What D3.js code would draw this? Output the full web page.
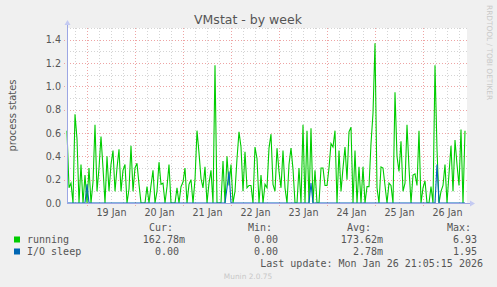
<!DOCTYPE html>
<html>
<head>
<meta charset="utf-8">
<script src="https://cdn.jsdelivr.net/npm/d3@7"></script>
<style>
    body { margin: 0; background: #f0f0f0; }
    svg { display: block; font-family: "DejaVu Sans", sans-serif; }
    .mono { font-family: "DejaVu Sans Mono", monospace; font-size: 10px; fill: #555; white-space: pre; }
</style>
</head>
<body>
<div id="vmstat_container"></div>
<script>
// hourly samples, starting Jan 18 13:45
var running = [
    0.62, 0.13, 0.17, 0, 0.76, 0.55, 0, 0.33, 0, 0.24,
    0, 0.3, 0, 0.18, 0.67, 0.1, 0.3, 0.57, 0.3, 0,
    0.4, 0.1, 0.33, 0.45, 0.1, 0.3, 0.46, 0.1, 0.28, 0.33,
    0, 0.12, 0.49, 0.1, 0.3, 0.34, 0.16, 0, 0, 0,
    0.14, 0, 0.15, 0.28, 0, 0.1, 0.35, 0.16, 0.17, 0,
    0.14, 0.33, 0, 0, 0, 0.13, 0, 0.14, 0.18, 0.3,
    0, 0.16, 0.2, 0, 0.2, 0.62, 0.43, 0.21, 0.13, 0.31,
    0, 0.17, 0.28, 0, 1.18, 0, 0, 0, 0.36, 0,
    0.4, 0.15, 0.33, 0, 0.1, 0.38, 0.61, 0.48, 0.1, 0.44,
    0.13, 0.15, 0.15, 0, 0.48, 0.38, 0, 0.24, 0, 0.16,
    0.13, 0.47, 0.59, 0.16, 0.1, 0.47, 0.27, 0.13, 0.45, 0.13,
    0, 0.33, 0.47, 0.29, 0, 0, 0.3, 0, 0.67, 0,
    0.62, 0, 0.64, 0, 0.28, 0, 0, 0.3, 0.3, 0.15,
    0.15, 0.3, 0.51, 0.48, 0.62, 0, 0.45, 0.1, 0.3, 0.48,
    0.2, 0.61, 0.65, 0, 0.45, 0, 0.31, 0, 0.31, 0,
    0.14, 0.14, 0.51, 0.77, 1.37, 0.13, 0, 0.31, 0.3, 0.15,
    0, 0.17, 0.15, 0, 0.95, 0.4, 0.27, 0.53, 0.1, 0.17,
    0.67, 0.3, 0, 0.24, 0.25, 0.15, 0.62, 0, 0.13, 0.19,
    0, 0, 0.14, 0, 1.18, 0.46, 0, 0.1, 0.15, 0.33,
    0, 0.25, 0.49, 0.1, 0.54, 0.33, 0.15, 0.63, 0, 0.62
];

var ioSleep = [
    0, 0, 0, 0, 0, 0, 0, 0, 0, 0,
    0.16, 0, 0, 0, 0, 0, 0, 0, 0, 0,
    0, 0, 0, 0, 0, 0, 0, 0, 0, 0,
    0, 0, 0, 0, 0, 0, 0, 0, 0, 0,
    0, 0, 0, 0, 0, 0, 0, 0, 0, 0,
    0, 0, 0, 0, 0, 0, 0, 0, 0, 0,
    0, 0, 0, 0, 0, 0, 0, 0, 0, 0,
    0, 0, 0, 0, 0, 0, 0, 0, 0, 0,
    0.13, 0.27, 0, 0, 0, 0, 0, 0, 0, 0,
    0, 0, 0, 0, 0, 0, 0, 0, 0, 0,
    0, 0, 0, 0, 0, 0, 0, 0, 0, 0,
    0, 0, 0, 0, 0, 0, 0, 0, 0, 0,
    0, 0, 0.17, 0, 0, 0, 0, 0, 0, 0,
    0, 0, 0, 0, 0, 0, 0, 0, 0, 0,
    0, 0, 0, 0, 0, 0, 0, 0, 0, 0,
    0, 0, 0, 0, 0, 0, 0, 0, 0, 0,
    0, 0, 0, 0, 0, 0, 0, 0, 0, 0,
    0, 0, 0, 0, 0, 0, 0, 0, 0, 0,
    0, 0, 0, 0, 0, 0.33, 0, 0, 0, 0,
    0, 0, 0, 0, 0, 0, 0, 0, 0, 0
];

var dayLabels = ["19 Jan", "20 Jan", "21 Jan", "22 Jan", "23 Jan", "24 Jan", "25 Jan", "26 Jan"];
var yTicks = [0, 0.2, 0.4, 0.6, 0.8, 1.0, 1.2, 1.4];
var yMinor = [0.1, 0.3, 0.5, 0.7, 0.9, 1.1, 1.3, 1.5];

var seriesNames = ["running", "I/O sleep"];
var seriesColors = ["#00cc00", "#0066b3"];
var curVals = ["162.78m", "0.00 "];
var minVals = ["0.00 ", "0.00 "];
var avgVals = ["173.62m", "2.78m"];
var maxVals = ["6.93 ", "1.95 "];

function display_vmstat() {
    var W = 497, H = 287;
    var left = 67, right = 467, top = 28, bottom = 203;

    var start = new Date(2026, 0, 18, 13, 45);
    var end = d3.timeHour.offset(start, 200);

    var x = d3.scaleTime().domain([start, end]).range([left, right]);
    var y = d3.scaleLinear().domain([0, 1.5]).range([bottom, top]);

    var svg = d3.select("#vmstat_container").append("svg")
        .attr("width", W)
        .attr("height", H);

    svg.append("rect").attr("width", W).attr("height", H).attr("fill", "#f0f0f0");
    svg.append("rect")
        .attr("x", left).attr("y", top)
        .attr("width", right - left).attr("height", bottom - top)
        .attr("fill", "#ffffff");

    var grid = svg.append("g").attr("fill", "none").attr("stroke-dasharray", "1,2");

    // minor vertical grid, every 6 hours
    grid.selectAll(".vminor")
        .data(d3.timeHour.every(6).range(start, end))
        .enter().append("line")
        .attr("x1", function (d) { return Math.floor(x(d)) + 0.5; })
        .attr("x2", function (d) { return Math.floor(x(d)) + 0.5; })
        .attr("y1", top).attr("y2", bottom)
        .attr("stroke", "#d4d4d4");

    grid.selectAll(".hminor")
        .data(yMinor)
        .enter().append("line")
        .attr("x1", left).attr("x2", right)
        .attr("y1", function (d) { return Math.round(y(d)) + 0.5; })
        .attr("y2", function (d) { return Math.round(y(d)) + 0.5; })
        .attr("stroke", "#d4d4d4");

    // major grid: midnights and 0.2 steps
    grid.selectAll(".vmajor")
        .data(d3.timeDay.range(start, end))
        .enter().append("line")
        .attr("x1", function (d) { return Math.floor(x(d)) + 0.5; })
        .attr("x2", function (d) { return Math.floor(x(d)) + 0.5; })
        .attr("y1", top).attr("y2", bottom + 3)
        .attr("stroke", "#eea4a4");

    grid.selectAll(".hmajor")
        .data(yTicks.slice(1))
        .enter().append("line")
        .attr("x1", left - 3).attr("x2", right)
        .attr("y1", function (d) { return Math.round(y(d)) + 0.5; })
        .attr("y2", function (d) { return Math.round(y(d)) + 0.5; })
        .attr("stroke", "#eea4a4");

    var line = d3.line()
        .x(function (d, i) { return x(d3.timeHour.offset(start, i)); })
        .y(function (d) { return y(d); });

    svg.append("path")
        .datum(running)
        .attr("d", line)
        .attr("fill", "none")
        .attr("stroke", seriesColors[0])
        .attr("stroke-width", 1.1);

    svg.append("path")
        .datum(ioSleep)
        .attr("d", line)
        .attr("fill", "none")
        .attr("stroke", seriesColors[1])
        .attr("stroke-width", 1.1);

    // axes
    svg.append("line")
        .attr("x1", left).attr("x2", right + 4)
        .attr("y1", bottom + 0.5).attr("y2", bottom + 0.5)
        .attr("stroke", "#9ca6e4");
    svg.append("line")
        .attr("x1", left + 0.5).attr("x2", left + 0.5)
        .attr("y1", bottom).attr("y2", top - 3)
        .attr("stroke", "#9ca6e4");
    svg.append("path")
        .attr("d", "M" + (right + 3) + "," + (bottom - 2.5) + "L" + (right + 8) + "," + (bottom + 0.5) + "L" + (right + 3) + "," + (bottom + 3.5) + "Z")
        .attr("fill", "#c4caf2");
    svg.append("path")
        .attr("d", "M" + (left - 2.5) + "," + (top - 3) + "L" + (left + 0.5) + "," + (top - 8) + "L" + (left + 3.5) + "," + (top - 3) + "Z")
        .attr("fill", "#c4caf2");

    var parseDay = d3.timeParse("%d %b %Y");
    svg.selectAll(".xlabel")
        .data(dayLabels)
        .enter().append("text")
        .attr("x", function (d) { return x(d3.timeHour.offset(parseDay(d + " 2026"), 12)); })
        .attr("y", bottom + 13)
        .attr("text-anchor", "middle")
        .attr("font-size", "9.6px")
        .attr("fill", "#555")
        .text(function (d) { return d; });

    svg.selectAll(".ylabel")
        .data(yTicks)
        .enter().append("text")
        .attr("x", left - 6)
        .attr("y", function (d) { return y(d) + 3.5; })
        .attr("text-anchor", "end")
        .attr("font-size", "9.6px")
        .attr("fill", "#555")
        .text(function (d) { return d.toFixed(1); });

    svg.append("text")
        .attr("x", 248).attr("y", 24)
        .attr("text-anchor", "middle")
        .attr("font-size", "12.5px")
        .attr("fill", "#555")
        .text("VMstat - by week");

    svg.append("text")
        .attr("transform", "translate(16," + ((top + bottom) / 2) + ") rotate(-90)")
        .attr("text-anchor", "middle")
        .attr("font-size", "10px")
        .attr("fill", "#555")
        .text("process states");

    svg.append("text")
        .attr("transform", "translate(487,5) rotate(90)")
        .attr("font-size", "7.4px")
        .attr("fill", "#c8c8c8")
        .text("RRDTOOL / TOBI OETIKER");

    // legend
    var cols = [185, 284, 383, 483];
    var heads = ["Cur:", "Min:", "Avg:", "Max:"];
    svg.selectAll(".head")
        .data(heads)
        .enter().append("text")
        .attr("class", "mono")
        .attr("x", function (d, i) { return cols[i] - 12; })
        .attr("y", 231)
        .attr("text-anchor", "end")
        .text(function (d) { return d; });

    var rows = svg.selectAll(".row")
        .data(seriesNames)
        .enter().append("g")
        .attr("transform", function (d, i) { return "translate(0," + (243 + i * 12) + ")"; });

    rows.append("rect")
        .attr("x", 14).attr("y", -6.5)
        .attr("width", 6).attr("height", 6)
        .attr("fill", function (d, i) { return seriesColors[i]; });

    rows.append("text")
        .attr("class", "mono")
        .attr("x", 27)
        .text(function (d) { return d; });

    [curVals, minVals, avgVals, maxVals].forEach(function (vals, c) {
        rows.append("text")
            .attr("class", "mono")
            .attr("x", cols[c])
            .attr("text-anchor", "end")
            .text(function (d, i) { return vals[i]; });
    });

    svg.append("text")
        .attr("class", "mono")
        .attr("x", 483).attr("y", 267)
        .attr("text-anchor", "end")
        .text("Last update: Mon Jan 26 21:05:15 2026");

    svg.append("text")
        .attr("x", 248).attr("y", 279)
        .attr("text-anchor", "middle")
        .attr("font-size", "7.4px")
        .attr("fill", "#c8c8c8")
        .text("Munin 2.0.75");
}

display_vmstat();
</script>
</body>
</html>
